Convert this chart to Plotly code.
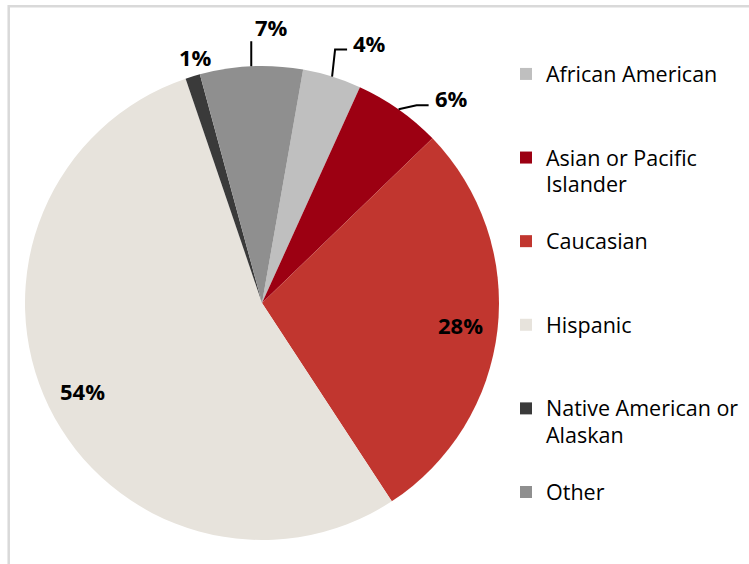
import math
import plotly.graph_objects as go

# ---- data ----
categories = ["African American", "Asian or Pacific Islander", "Caucasian",
              "Hispanic", "Native American or Alaskan", "Other"]
values = [4, 6, 28, 54, 1, 7]
value_labels = ["4%", "6%", "28%", "54%", "1%", "7%"]
legend_lines = [["African American"], ["Asian or Pacific", "Islander"], ["Caucasian"],
                ["Hispanic"], ["Native American or", "Alaskan"], ["Other"]]
colors = ["#BFBFBF", "#9C0012", "#C1362F", "#E7E3DC", "#3A3A3A", "#8F8F8F"]

# ---- layout constants ----
W, H = 749, 564
CX, CY, R = 262, 303, 237
ROT = 10
FONT = "Open Sans"
SLOT_LINES = 3
LEG_SIZE = 20.67      # controls line pitch in legend
LEG_GLYPH = 21.5      # rendered glyph size

def paper(px, py):
    return px / W, 1 - py / H

# legend labels padded to fixed slot height
leg_labels = []
for lines in legend_lines:
    shown = ["<span style='font-size:%gpx'>%s</span>" % (LEG_GLYPH, ln) for ln in lines]
    pad = shown + ["\u00a0"] * (SLOT_LINES - len(lines))
    leg_labels.append("<br>".join(pad))

fig = go.Figure(go.Pie(
    labels=leg_labels,
    values=values,
    sort=False,
    direction="clockwise",
    rotation=ROT,
    marker=dict(colors=colors, line=dict(width=0)),
    textinfo="none",
    hovertext=categories,
    hoverinfo="text+percent",
    domain=dict(x=[(CX - R) / W, (CX + R) / W], y=[1 - (CY + R) / H, 1 - (CY - R) / H]),
))

# label placement styles (pixel offsets relative to slice edge point)
styles = {
    "African American": dict(kind="elbow", bend=(3, -27), end=(15, -27), text=(19, -34), anchor="left"),
    "Asian or Pacific Islander": dict(kind="elbow", bend=(18, -4), end=(30, -4), text=(34, -11), anchor="left"),
    "Caucasian": dict(kind="inside", r=200),
    "Hispanic": dict(kind="inside", r=200),
    "Native American or Alaskan": dict(kind="plain", text=(3, -19)),
    "Other": dict(kind="straight", end=(0, -25), text=(20, -39)),
}

total = sum(values)
cum = 0
shapes = []
annotations = []
for cat, v, lab in zip(categories, values, value_labels):
    mid = math.radians(ROT + 360 * (cum + v / 2) / total)
    cum += v
    st = styles[cat]
    ex, ey = CX + R * math.sin(mid), CY - R * math.cos(mid)
    if st["kind"] == "inside":
        tx, ty = CX + st["r"] * math.sin(mid), CY - st["r"] * math.cos(mid)
        xa = "center"
    else:
        tx, ty = ex + st["text"][0], ey + st["text"][1]
        xa = st.get("anchor", "center")
        pts = [(ex, ey)]
        if st["kind"] == "elbow":
            pts += [(ex + st["bend"][0], ey + st["bend"][1]), (ex + st["end"][0], ey + st["end"][1])]
        elif st["kind"] == "straight":
            pts += [(ex + st["end"][0], ey + st["end"][1])]
        if len(pts) > 1:
            path = "M " + " L ".join("%.5f,%.5f" % paper(*p) for p in pts)
            shapes.append(dict(type="path", xref="paper", yref="paper", path=path,
                               line=dict(color="black", width=2)))
    px_, py_ = paper(tx, ty)
    annotations.append(dict(x=px_, y=py_, xref="paper", yref="paper", text=lab,
                            showarrow=False, xanchor=xa, yanchor="middle",
                            font=dict(family=FONT, size=22, color="black", weight="bold")))

# chart border (light grey frame)
x0, _ = paper(8.7, 0)
_, y1 = paper(0, 6.2)
shapes.append(dict(type="rect", xref="paper", yref="paper", x0=x0, y0=-0.2, x1=1.2, y1=y1,
                   line=dict(color="#D9D9D9", width=2.5), fillcolor="rgba(0,0,0,0)", layer="below"))

lx, ly = paper(506, 54)
fig.update_layout(
    width=W, height=H,
    margin=dict(l=0, r=0, t=0, b=0, autoexpand=False),
    paper_bgcolor="white",
    plot_bgcolor="white",
    shapes=shapes,
    annotations=annotations,
    showlegend=True,
    legend=dict(x=lx, y=ly, xanchor="left", yanchor="top", valign="top",
                font=dict(family=FONT, size=LEG_SIZE, color="black"),
                bgcolor="rgba(0,0,0,0)", borderwidth=0),
)

fig.write_html("out.html", config={"displayModeBar": False},
               post_script="document.body.style.margin='0px';")
